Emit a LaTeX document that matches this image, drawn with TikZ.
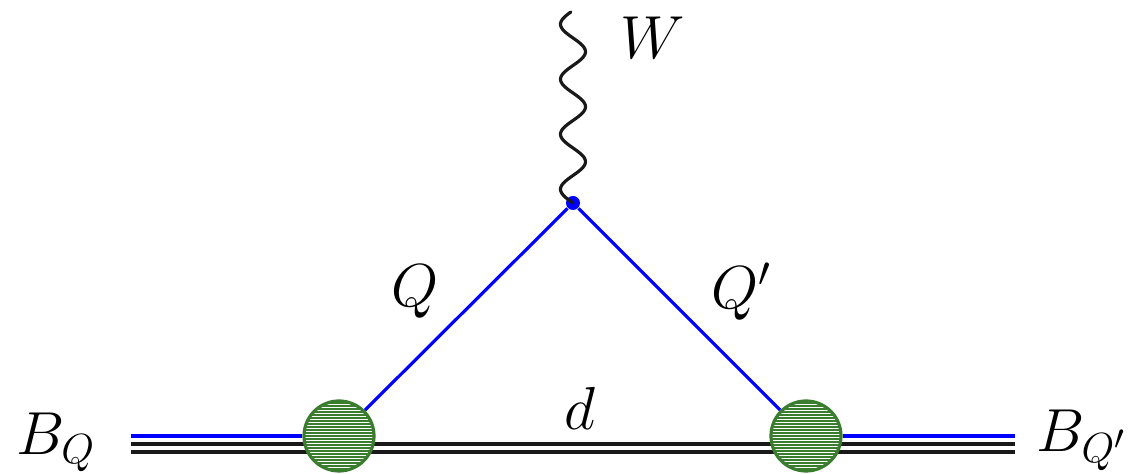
\documentclass[tikz,border=0pt]{standalone}
\usepackage{amsmath}
\definecolor{blobgreen}{RGB}{58,125,46}
\definecolor{quarkblue}{RGB}{0,0,255}

\tikzset{
  blob/.style={circle, draw=blobgreen, line width=0.9pt, fill=white, minimum size=0.7cm, inner sep=0pt,
    path picture={\foreach \k in {-12,...,12}
      \draw[blobgreen, line width=0.45pt] ([yshift=\k*0.3mm]path picture bounding box.west) -- ([yshift=\k*0.3mm]path picture bounding box.east);}},
  quark/.style={quarkblue, line width=0.9pt},
  meson/.style={black!90, line width=1pt},
  wboson/.style={black!90, line width=0.9pt, line join=round, line cap=round},
  lbl/.style={font=\LARGE}
}

\begin{document}
\begin{tikzpicture}[x=0.01cm, y=-0.01cm]
\useasboundingbox (0,0) rectangle (1135,474);
\coordinate (inL) at (131,436);
\coordinate (outR) at (1015,436);

% heavy meson lines (spectator)
\draw[meson] ([yshift=-0.08cm]inL) -- ([yshift=-0.08cm]outR);
\draw[meson] ([yshift=-0.16cm]inL) -- ([yshift=-0.16cm]outR);

% vertices
\node[blob] (bL) at (339,436) {};
\node[blob] (bR) at (806,436) {};
\node[circle, fill=quarkblue, minimum size=0.14cm, inner sep=0pt] (v) at (573,203) {};

% quarks and W
\draw[quark] (inL) -- (bL.west);
\draw[quark] (bR.east) -- (outR);
\draw[quark] (bL) -- (v);
\draw[quark] (v) -- (bR);
\begin{scope}[shift={(v.center)}]
  \draw[wboson] plot[domain=0:191, samples=120, smooth] ({-12.5*sin(6.545*\x)}, {-\x});
\end{scope}

% labels
\node[lbl] (lW) at (653,38) {$W$};
\node[lbl] (lBQ) at (56,442) {$B_Q$};
\node[lbl] (lBQp) at (1082,440) {$B_{Q'}$};
\node[lbl] (lQ) at (415,292) {$Q$};
\node[lbl] (lQp) at (742,292) {$Q'$};
\node[lbl] (ld) at (580,408) {$d$};
\end{tikzpicture}
\end{document}
